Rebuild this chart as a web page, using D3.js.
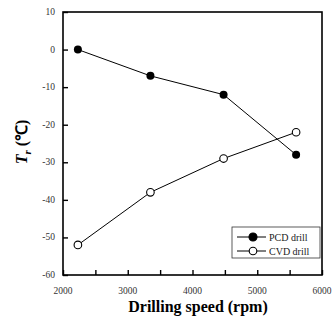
<!DOCTYPE html>
<html><head><meta charset="utf-8">
<script src="https://cdn.jsdelivr.net/npm/d3@7"></script>
<style>body{margin:0;background:#fff}svg{display:block}</style>
</head><body>
<svg id="c" width="334" height="326"></svg>
<script>
const speeds = [2230, 3350, 4480, 5600];
const pcd = [0, -7, -12, -28];
const cvd = [-52, -38, -29, -22];
const xTicks = [2000, 3000, 4000, 5000, 6000];
const yTicks = [10, 0, -10, -20, -30, -40, -50, -60];
const seriesNames = ["PCD drill", "CVD drill"];

const svg = d3.select("#c");
const m = {l: 63, r: 322, t: 12, b: 275};
const x = d3.scaleLinear().domain([2000, 6000]).range([m.l, m.r]);
const y = d3.scaleLinear().domain([-60, 10]).range([m.b, m.t]);
const font = "'Liberation Serif', 'Times New Roman', serif";

// frame
svg.append("rect").attr("x", m.l).attr("y", m.t).attr("width", m.r - m.l).attr("height", m.b - m.t)
  .attr("fill", "none").attr("stroke", "#000").attr("stroke-width", 1.6);

// bottom axis (ticks inward)
const xa = svg.append("g").attr("transform", `translate(0,${m.b})`)
  .call(d3.axisBottom(x).tickValues(d3.range(2000, 6001, 500)).tickSize(-5).tickFormat(""));
xa.select(".domain").remove();
xa.selectAll("line").attr("stroke-width", 1.4);
svg.selectAll(".xl").data(xTicks).join("text").attr("class", "xl")
  .attr("x", d => x(d)).attr("y", 294).attr("text-anchor", "middle")
  .attr("font-family", font).attr("font-size", 9.5).attr("fill", "#333").text(d => d);

// left axis
const ya = svg.append("g").attr("transform", `translate(${m.l},0)`)
  .call(d3.axisLeft(y).tickValues(yTicks).tickSize(-5).tickFormat(""));
ya.select(".domain").remove();
ya.selectAll("line").attr("stroke-width", 1.4);
svg.selectAll(".yl").data(yTicks).join("text").attr("class", "yl")
  .attr("x", 55).attr("y", d => y(d) + 3).attr("text-anchor", "end")
  .attr("font-family", font).attr("font-size", 9.5).attr("fill", "#333").text(d => d);

// lines
const line = d3.line().x((d, i) => x(speeds[i])).y(d => y(d));
svg.append("path").datum(pcd).attr("d", line).attr("fill", "none").attr("stroke", "#000").attr("stroke-width", 1);
svg.append("path").datum(cvd).attr("d", line).attr("fill", "none").attr("stroke", "#000").attr("stroke-width", 1);
svg.selectAll(".p1").data(pcd).join("circle").attr("cx", (d, i) => x(speeds[i])).attr("cy", d => y(d))
  .attr("r", 4).attr("fill", "#000");
svg.selectAll(".p2").data(cvd).join("circle").attr("cx", (d, i) => x(speeds[i])).attr("cy", d => y(d))
  .attr("r", 3.8).attr("fill", "#fff").attr("stroke", "#000").attr("stroke-width", 1.1);

// legend
const lg = svg.append("g");
lg.append("rect").attr("x", 232).attr("y", 227).attr("width", 88).attr("height", 31)
  .attr("fill", "#fff").attr("stroke", "#333").attr("stroke-width", 0.8);
seriesNames.forEach((n, i) => {
  const yy = 237 + i * 14;
  lg.append("line").attr("x1", 237).attr("x2", 266).attr("y1", yy).attr("y2", yy).attr("stroke", "#000");
  lg.append("circle").attr("cx", 253).attr("cy", yy).attr("r", i === 0 ? 4 : 3.8)
    .attr("fill", i === 0 ? "#000" : "#fff").attr("stroke", "#000").attr("stroke-width", 1.1);
  lg.append("text").attr("x", 269).attr("y", yy + 3.5).attr("font-family", font).attr("font-size", 10)
    .attr("fill", "#222").text(n);
});

// titles
svg.append("text").attr("x", 198).attr("y", 312).attr("text-anchor", "middle")
  .attr("font-family", font).attr("font-size", 16).attr("font-weight", "bold").text("Drilling speed (rpm)");
const yt = svg.append("text").attr("transform", "translate(27,142) rotate(-90)").attr("text-anchor", "middle")
  .attr("font-family", font).attr("font-size", 16).attr("font-weight", "bold");
yt.append("tspan").attr("font-style", "italic").text("T");
yt.append("tspan").attr("font-style", "italic").attr("font-size", 11).attr("dy", 4).text("r");
yt.append("tspan").attr("dy", -4).text(" (℃)");
</script>
</body></html>
